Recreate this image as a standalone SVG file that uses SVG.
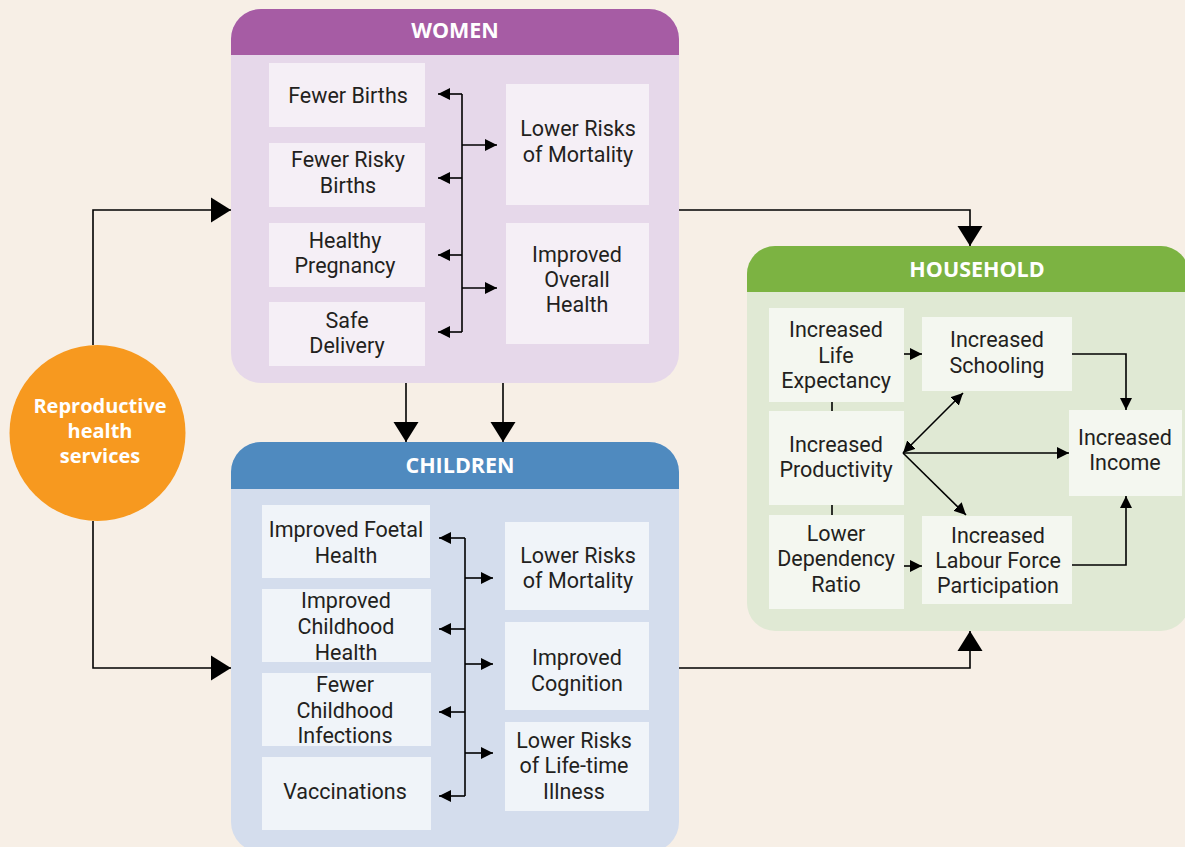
<svg xmlns="http://www.w3.org/2000/svg" width="1185" height="847" viewBox="0 0 1185 847">
<defs>
<style>
.t{font-family:Roboto,"Noto Sans","Liberation Sans",sans-serif;font-size:21.5px;fill:#231F20;text-anchor:middle}
.h{font-family:"Open Sans","Noto Sans","Liberation Sans",sans-serif;font-size:20px;font-weight:bold;fill:#FFFFFF;text-anchor:middle}
.hh{font-size:21.5px}
.c{fill:none;stroke:#000;stroke-width:1.6}
.s{marker-end:url(#sa)}
.b{marker-end:url(#ba)}
.wb{fill:#F5EFF6}
.cb{fill:#F0F4F9}
.hb{fill:#F4F7F0}
</style>
<marker id="sa" markerUnits="userSpaceOnUse" markerWidth="13" markerHeight="13" refX="12" refY="6.5" orient="auto-start-reverse" viewBox="0 0 13 13"><path d="M0,0.5 L12,6.5 L0,12.5 z" fill="#000"/></marker>
<marker id="ba" markerUnits="userSpaceOnUse" markerWidth="21" markerHeight="26" refX="20" refY="13" orient="auto" viewBox="0 0 21 26"><path d="M0,0.5 L20,13 L0,25.5 z" fill="#000"/></marker>
</defs>
<rect width="1185" height="847" fill="#F7EFE6"/>

<g id="connectors">
<path class="c b" d="M93,345 V210 H231"/>
<path class="c b" d="M93,521 V668 H231"/>
<path class="c b" d="M406,383 V442"/>
<path class="c b" d="M503,383 V442"/>
<path class="c b" d="M679,210 H970 V246"/>
<path class="c b" d="M679,668 H970 V631"/>
</g>

<g id="reproductive">
<circle cx="97.5" cy="433" r="88" fill="#F7991F"/>
<text class="h" x="100" y="413">Reproductive</text>
<text class="h" x="100" y="438">health</text>
<text class="h" x="100" y="463">services</text>
</g>

<g id="women">
<rect x="231" y="9" width="448" height="374" rx="30" fill="#E6D8EA"/>
<path d="M231,55 V39 A30,30 0 0 1 261,9 H649 A30,30 0 0 1 679,39 V55 z" fill="#A65CA4"/>
<text class="h hh" x="455" y="38">WOMEN</text>
<rect class="wb" x="269" y="63" width="156" height="64"/>
<text class="t" x="348" y="103">Fewer Births</text>
<rect class="wb" x="269" y="143" width="156" height="64"/>
<text class="t" x="348" y="167">Fewer Risky</text>
<text class="t" x="348" y="193">Births</text>
<rect class="wb" x="269" y="223" width="156" height="64"/>
<text class="t" x="345" y="248">Healthy</text>
<text class="t" x="345" y="273">Pregnancy</text>
<rect class="wb" x="269" y="302" width="156" height="64"/>
<text class="t" x="347" y="328">Safe</text>
<text class="t" x="347" y="353">Delivery</text>
<rect class="wb" x="506" y="84" width="143" height="121"/>
<text class="t" x="578" y="136">Lower Risks</text>
<text class="t" x="578" y="162">of Mortality</text>
<rect class="wb" x="506" y="223" width="143" height="121"/>
<text class="t" x="577" y="262">Improved</text>
<text class="t" x="577" y="287">Overall</text>
<text class="t" x="577" y="312">Health</text>
<g class="c">
<path d="M462,94 V332"/>
<path class="s" d="M462,94 H438"/>
<path class="s" d="M462,178 H438"/>
<path class="s" d="M462,255 H438"/>
<path class="s" d="M462,332 H438"/>
<path class="s" d="M462,145 H497"/>
<path class="s" d="M462,288 H497"/>
</g>
</g>

<g id="children">
<rect x="231" y="442" width="448" height="410" rx="30" fill="#D4DDED"/>
<path d="M231,489 V472 A30,30 0 0 1 261,442 H649 A30,30 0 0 1 679,472 V489 z" fill="#4F8ABF"/>
<text class="h hh" x="460" y="473">CHILDREN</text>
<rect class="cb" x="262" y="505" width="168" height="73"/>
<text class="t" x="346" y="537">Improved Foetal</text>
<text class="t" x="346" y="563">Health</text>
<rect class="cb" x="262" y="589" width="169" height="73"/>
<text class="t" x="346" y="608">Improved</text>
<text class="t" x="346" y="634">Childhood</text>
<text class="t" x="346" y="660">Health</text>
<rect class="cb" x="262" y="673" width="169" height="73"/>
<text class="t" x="345" y="692">Fewer</text>
<text class="t" x="345" y="718">Childhood</text>
<text class="t" x="345" y="743">Infections</text>
<rect class="cb" x="262" y="757" width="169" height="73"/>
<text class="t" x="345" y="799">Vaccinations</text>
<rect class="cb" x="505" y="522" width="144" height="88"/>
<text class="t" x="578" y="563">Lower Risks</text>
<text class="t" x="578" y="588">of Mortality</text>
<rect class="cb" x="505" y="622" width="144" height="88"/>
<text class="t" x="577" y="665">Improved</text>
<text class="t" x="577" y="691">Cognition</text>
<rect class="cb" x="505" y="722" width="144" height="89"/>
<text class="t" x="574" y="748">Lower Risks</text>
<text class="t" x="574" y="773">of Life-time</text>
<text class="t" x="574" y="799">Illness</text>
<g class="c">
<path d="M465,538 V796"/>
<path class="s" d="M465,538 H439"/>
<path class="s" d="M465,629 H439"/>
<path class="s" d="M465,712 H439"/>
<path class="s" d="M465,796 H439"/>
<path class="s" d="M465,578 H493"/>
<path class="s" d="M465,664 H493"/>
<path class="s" d="M465,753 H493"/>
</g>
</g>

<g id="household">
<rect x="747" y="246" width="442" height="385" rx="28" fill="#E0E9D4"/>
<path d="M747,292 V274 A28,28 0 0 1 775,246 H1161 A28,28 0 0 1 1189,274 V292 z" fill="#7CB342"/>
<text class="h hh" x="977" y="277">HOUSEHOLD</text>
<rect class="hb" x="769" y="308" width="135" height="94"/>
<text class="t" x="836" y="337">Increased</text>
<text class="t" x="836" y="363">Life</text>
<text class="t" x="836" y="388">Expectancy</text>
<rect class="hb" x="769" y="411" width="135" height="94"/>
<text class="t" x="836" y="452">Increased</text>
<text class="t" x="836" y="477">Productivity</text>
<rect class="hb" x="769" y="515" width="135" height="94"/>
<text class="t" x="836" y="541">Lower</text>
<text class="t" x="836" y="566">Dependency</text>
<text class="t" x="836" y="592">Ratio</text>
<rect class="hb" x="922" y="317" width="150" height="74"/>
<text class="t" x="997" y="347">Increased</text>
<text class="t" x="997" y="373">Schooling</text>
<rect class="hb" x="922" y="516" width="150" height="88"/>
<text class="t" x="998" y="543">Increased</text>
<text class="t" x="998" y="568">Labour Force</text>
<text class="t" x="998" y="593">Participation</text>
<rect class="hb" x="1069" y="410" width="113" height="86"/>
<text class="t" x="1125" y="445">Increased</text>
<text class="t" x="1125" y="470">Income</text>
<g class="c">
<path d="M832,402 V411"/>
<path d="M832,505 V515"/>
<path class="s" d="M904,354 H922"/>
<path class="s" d="M904,566 H922"/>
<path class="s" d="M903,453 L963,393" style="marker-start:url(#sa)"/>
<path class="s" d="M903,453 H1069"/>
<path class="s" d="M903,453 L966,515"/>
<path class="s" d="M1072,354 H1126 V410"/>
<path class="s" d="M1072,565 H1126 V496"/>
</g>
</g>
</svg>
